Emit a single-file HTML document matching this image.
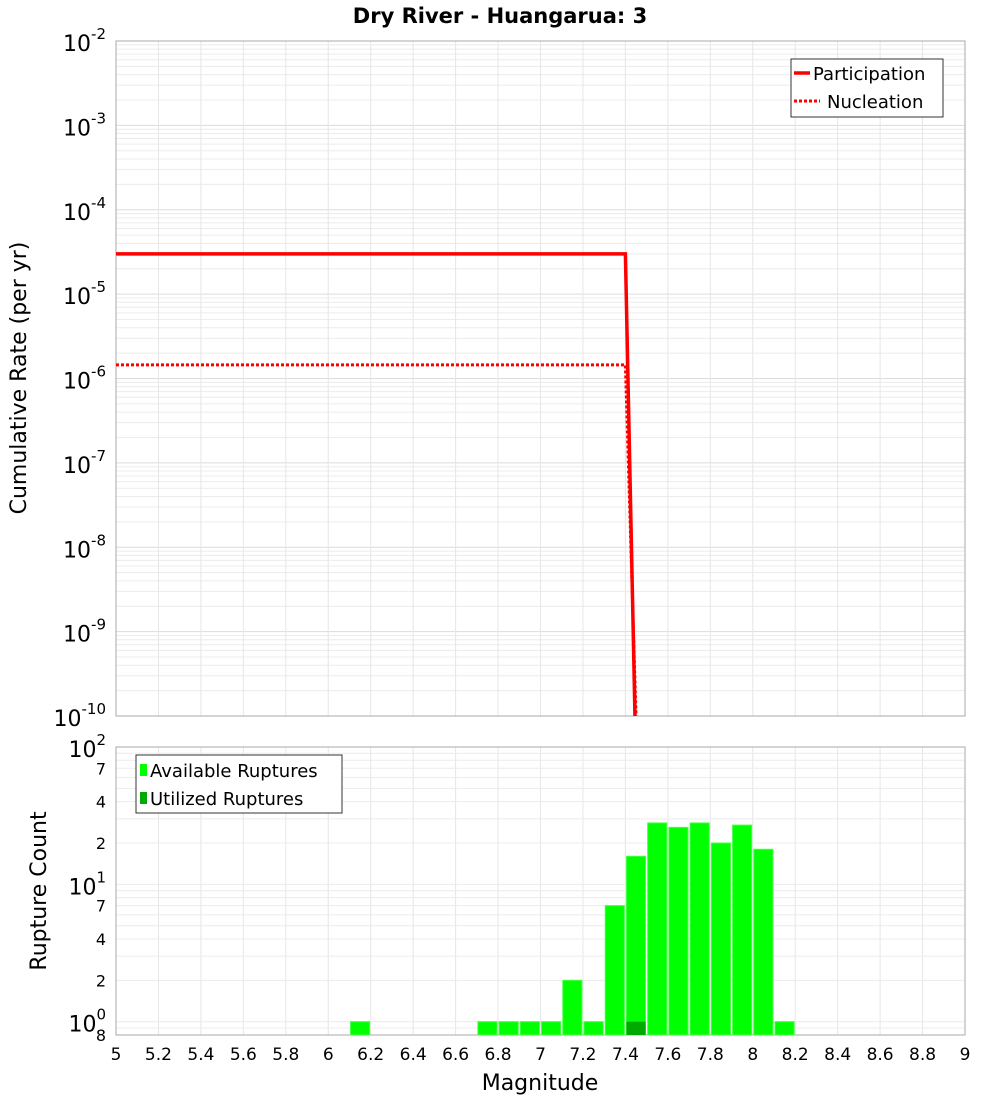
<!DOCTYPE html>
<html><head><meta charset="utf-8">
<style>
body{margin:0;background:#fff;font-family:"Liberation Sans","DejaVu Sans",sans-serif;}
svg text{font-family:"DejaVu Sans","Liberation Sans",sans-serif;}
</style></head>
<body>
<svg id="chart" width="1000" height="1100" xmlns="http://www.w3.org/2000/svg">
<text x="500" y="23" text-anchor="middle" font-size="21" font-weight="bold">Dry River - Huangarua: 3</text>
<g id="top"></g>
<g id="bot"></g>
</svg>
<script>
const partMags=[5.0,7.40,7.445];
const partRates=[3.0e-5,3.0e-5,1e-10];
const nuclMags=[5.0,7.40,7.45];
const nuclRates=[1.45e-6,1.45e-6,1e-10];
const binMags=[6.15,6.75,6.85,6.95,7.05,7.15,7.25,7.35,7.45,7.55,7.65,7.75,7.85,7.95,8.05,8.15];
const availCounts=[1,1,1,1,1,2,1,7,16,28,26,28,20,27,18,1];
const utilMags=[7.45];
const utilCounts=[1];
const xTicks=[5,5.2,5.4,5.6,5.8,6,6.2,6.4,6.6,6.8,7,7.2,7.4,7.6,7.8,8,8.2,8.4,8.6,8.8,9];

const NS="http://www.w3.org/2000/svg";
const svg=document.getElementById('chart');
const top_=document.getElementById('top'),bot=document.getElementById('bot');
function mk(p,t,a){const e=document.createElementNS(NS,t);for(const k in a)e.setAttribute(k,a[k]);p.appendChild(e);return e;}
const X0=116,X1=965;
const xs=m=>X0+(m-5)/4*(X1-X0);
const T0=41,T1=716;
const ys=v=>T0+(-2-Math.log10(v))/8*(T1-T0);
const B0=747,B1=1035,bmin=Math.log10(0.8),bmax=2;
const yb=v=>B1-(Math.log10(v)-bmin)/(bmax-bmin)*(B1-B0);

// top grid
for(let d=-10;d<-2;d++){for(let k=1;k<10;k++){const y=ys(k*Math.pow(10,d));const g=mk(top_,'line',{x1:X0,x2:X1,y1:y,y2:y,stroke:k==1?'#dcdcdc':'#ececec','stroke-width':1});}}
xTicks.forEach(t=>{const g=mk(top_,'line',{x1:xs(t),x2:xs(t),y1:T0,y2:T1,stroke:'#e6e6e6'});
const g2=mk(bot,'line',{x1:xs(t),x2:xs(t),y1:B0,y2:B1,stroke:'#e6e6e6'});});
const tf=mk(top_,'rect',{x:X0,y:T0,width:X1-X0,height:T1-T0,fill:'none',stroke:'#aaa'});

for(let d=-10;d<=-2;d++){const t=mk(top_,'text',{x:106,y:ys(Math.pow(10,d))+10,'text-anchor':'end','font-size':22});t.innerHTML='10<tspan dy="-12" font-size="15">'+d+'</tspan>';}
function line(p,ms,vs,dash,name){const pts=ms.map((m,i)=>xs(m)+','+ys(vs[i])).join(' ');const e=mk(p,'polyline',{points:pts,fill:'none',stroke:'#ff0000','stroke-width':dash?3:3.5});if(dash)e.setAttribute('stroke-dasharray','3,2');}
line(top_,nuclMags,nuclRates,true,'nucleation-line');
line(top_,partMags,partRates,false,'participation-line');
const yt=mk(top_,'text',{x:26,y:378,'text-anchor':'middle','font-size':22,transform:'rotate(-90 26 378)'});yt.textContent='Cumulative Rate (per yr)';
// legend top
const lg=mk(top_,'g',{});
mk(lg,'rect',{x:791,y:59,width:152,height:58,fill:'#fff',stroke:'#333'});
mk(lg,'line',{x1:794,x2:810,y1:73,y2:73,stroke:'#f00','stroke-width':3.5});
let t=mk(lg,'text',{x:813,y:80,'font-size':18});t.textContent='Participation';
mk(lg,'line',{x1:794,x2:820,y1:101,y2:101,stroke:'#f00','stroke-width':3,'stroke-dasharray':'3,2'});
t=mk(lg,'text',{x:827,y:108,'font-size':18});t.textContent='Nucleation';

// bottom grid
const bt=[[1,'0'],[2,'2'],[4,'4'],[7,'7'],[10,'1'],[20,'2'],[40,'4'],[70,'7'],[100,'2']];
for(let d=-1;d<2;d++)for(let k=1;k<10;k++){const v=k*Math.pow(10,d);if(v<0.8)continue;const y=yb(v);const g=mk(bot,'line',{x1:X0,x2:X1,y1:y,y2:y,stroke:'#ececec'});}
const bf=mk(bot,'rect',{x:X0,y:B0,width:X1-X0,height:B1-B0,fill:'none',stroke:'#aaa'});
binMags.forEach((m,i)=>{const r=mk(bot,'rect',{x:xs(m-0.045),y:yb(availCounts[i]),width:xs(0.09)-xs(0),height:B1-yb(availCounts[i]),fill:'#00ff00',stroke:'#44ff44','stroke-width':1});});
utilMags.forEach((m,i)=>{const r=mk(bot,'rect',{x:xs(m-0.045),y:yb(utilCounts[i]),width:xs(0.09)-xs(0),height:B1-yb(utilCounts[i]),fill:'#00aa00'});});
[[100,'2',true],[70,'7'],[40,'4'],[20,'2'],[10,'1',true],[7,'7'],[4,'4'],[2,'2'],[1,'0',true],[0.8,'8']].forEach(a=>{const y=yb(a[0]);let e;
if(a[2]){e=mk(bot,'text',{x:106,y:y+10,'text-anchor':'end','font-size':22});e.innerHTML='10<tspan dy="-12" font-size="15">'+a[1]+'</tspan>';}
else{e=mk(bot,'text',{x:106,y:y+6,'text-anchor':'end','font-size':16});e.textContent=a[1];}
});
xTicks.forEach(v=>{const e=mk(bot,'text',{x:xs(v),y:1060,'text-anchor':'middle','font-size':17});e.textContent=String(+v.toFixed(1));});
t=mk(bot,'text',{x:540,y:1090,'text-anchor':'middle','font-size':22});t.textContent='Magnitude';
t=mk(bot,'text',{x:46,y:891,'text-anchor':'middle','font-size':22,transform:'rotate(-90 46 891)'});t.textContent='Rupture Count';
const lg2=mk(bot,'g',{});
mk(lg2,'rect',{x:136,y:755,width:206,height:58,fill:'#fff',stroke:'#333'});
mk(lg2,'rect',{x:140,y:764,width:7,height:12,fill:'#00ff00'});
t=mk(lg2,'text',{x:150,y:777,'font-size':18});t.textContent='Available Ruptures';
mk(lg2,'rect',{x:140,y:792,width:7,height:12,fill:'#00aa00'});
t=mk(lg2,'text',{x:150,y:805,'font-size':18});t.textContent='Utilized Ruptures';
</script>
</body></html>
